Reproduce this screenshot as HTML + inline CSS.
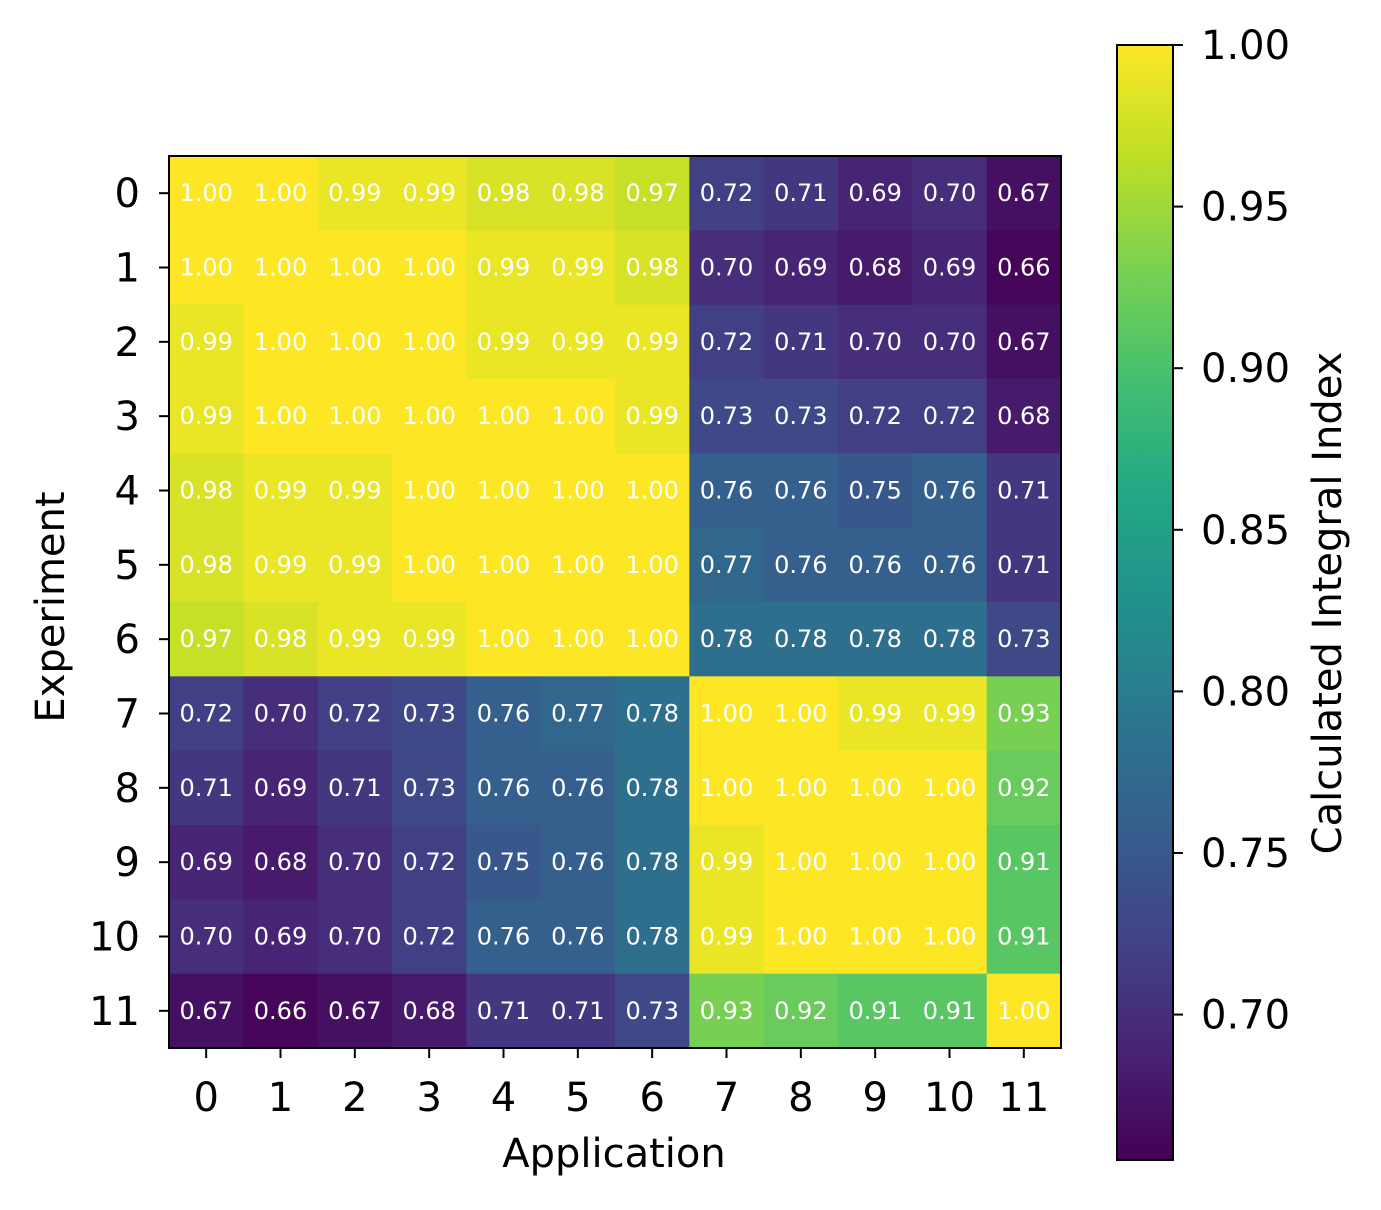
<!DOCTYPE html>
<html><head><meta charset="utf-8"><style>
body{margin:0;background:#fff;}
svg text{font-family:"DejaVu Sans","Liberation Sans",sans-serif;}
</style></head><body>
<svg id="chart" width="1381" height="1205" xmlns="http://www.w3.org/2000/svg">
<defs><linearGradient id="vg" x1="0" y1="1" x2="0" y2="0">
<stop offset="0" stop-color="#440154"/><stop offset="0.1" stop-color="#482475"/><stop offset="0.2" stop-color="#414487"/><stop offset="0.3" stop-color="#355f8d"/><stop offset="0.4" stop-color="#2a788e"/><stop offset="0.5" stop-color="#21918c"/><stop offset="0.6" stop-color="#22a884"/><stop offset="0.7" stop-color="#44bf70"/><stop offset="0.8" stop-color="#7ad151"/><stop offset="0.9" stop-color="#bddf26"/><stop offset="1" stop-color="#fde725"/>
</linearGradient></defs>
<g id="cells"></g>
<rect x="169" y="156" width="892" height="892" fill="none" stroke="#000" stroke-width="2"/>
<g id="axes"></g>
<text x="614" y="1167" style="font-size:40px" text-anchor="middle">Application</text>
<text transform="translate(64,607) rotate(-90)" style="font-size:40px" text-anchor="middle">Experiment</text>
<rect x="1117" y="45" width="56" height="1115" fill="url(#vg)" stroke="#000" stroke-width="2"/>
<g id="cbticks"></g>
<text transform="translate(1341,603) rotate(-90)" style="font-size:40px" text-anchor="middle">Calculated Integral Index</text>
</svg>
<script>
const categories=[0,1,2,3,4,5,6,7,8,9,10,11];
const values=[
[1.00,1.00,0.99,0.99,0.98,0.98,0.97,0.72,0.71,0.69,0.70,0.67],
[1.00,1.00,1.00,1.00,0.99,0.99,0.98,0.70,0.69,0.68,0.69,0.66],
[0.99,1.00,1.00,1.00,0.99,0.99,0.99,0.72,0.71,0.70,0.70,0.67],
[0.99,1.00,1.00,1.00,1.00,1.00,0.99,0.73,0.73,0.72,0.72,0.68],
[0.98,0.99,0.99,1.00,1.00,1.00,1.00,0.76,0.76,0.75,0.76,0.71],
[0.98,0.99,0.99,1.00,1.00,1.00,1.00,0.77,0.76,0.76,0.76,0.71],
[0.97,0.98,0.99,0.99,1.00,1.00,1.00,0.78,0.78,0.78,0.78,0.73],
[0.72,0.70,0.72,0.73,0.76,0.77,0.78,1.00,1.00,0.99,0.99,0.93],
[0.71,0.69,0.71,0.73,0.76,0.76,0.78,1.00,1.00,1.00,1.00,0.92],
[0.69,0.68,0.70,0.72,0.75,0.76,0.78,0.99,1.00,1.00,1.00,0.91],
[0.70,0.69,0.70,0.72,0.76,0.76,0.78,0.99,1.00,1.00,1.00,0.91],
[0.67,0.66,0.67,0.68,0.71,0.71,0.73,0.93,0.92,0.91,0.91,1.00]];
const cbTicks=[0.70,0.75,0.80,0.85,0.90,0.95,1.00];
const vmin=0.655,vmax=1.0;
const stops=["#440154","#482475","#414487","#355f8d","#2a788e","#21918c","#22a884","#44bf70","#7ad151","#bddf26","#fde725"];
function hex(h){return [1,3,5].map(i=>parseInt(h.substr(i,2),16));}
function cmap(v){let t=Math.max(0,Math.min(1,(v-vmin)/(vmax-vmin)))*10;let i=Math.min(9,Math.floor(t)),f=t-i;let a=hex(stops[i]),b=hex(stops[i+1]);return "rgb("+a.map((c,k)=>Math.round(c+(b[k]-c)*f)).join(",")+")";}
const X0=169,Y0=156,S=892/12;
const xs=i=>X0+S*i, ys=i=>Y0+S*i;
const cbY=v=>1160-(v-vmin)/(vmax-vmin)*1115;
const NS="http://www.w3.org/2000/svg";
function mk(tag,attrs,parent,txt){const e=document.createElementNS(NS,tag);for(const k in attrs)e.setAttribute(k,attrs[k]);if(txt!==undefined)e.textContent=txt;parent.appendChild(e);return e;}
const cells=document.getElementById('cells'),axes=document.getElementById('axes'),cb=document.getElementById('cbticks');
values.forEach((row,r)=>row.forEach((v,c)=>{
 const rc=mk('rect',{x:xs(c),y:ys(r),width:S+0.5,height:S+0.5,fill:cmap(v)},cells);
 
 
 const t=mk('text',{x:xs(c)+S/2,y:ys(r)+S/2+8,style:'font-size:24px','text-anchor':'middle',fill:'#fff'},cells,v.toFixed(2));
 
 
}));
categories.forEach((c,i)=>{
 const cx=xs(i)+S/2, cy=ys(i)+S/2;
 mk('line',{x1:cx,x2:cx,y1:1048,y2:1058,stroke:'#000','stroke-width':2},axes);
 const xt=mk('text',{x:cx,y:1111,style:'font-size:40px','text-anchor':'middle'},axes,c);
 
 
 mk('line',{x1:159,x2:169,y1:cy,y2:cy,stroke:'#000','stroke-width':2},axes);
 const yt=mk('text',{x:140,y:cy+14,style:'font-size:40px','text-anchor':'end'},axes,c);
 
 
});
cbTicks.forEach(v=>{
 const y=cbY(v);
 mk('line',{x1:1173,x2:1183,y1:y,y2:y,stroke:'#000','stroke-width':2},cb);
 const t=mk('text',{x:1201,y:y+14,style:'font-size:40px'},cb,v.toFixed(2));
 
 
});
</script>
</body></html>
